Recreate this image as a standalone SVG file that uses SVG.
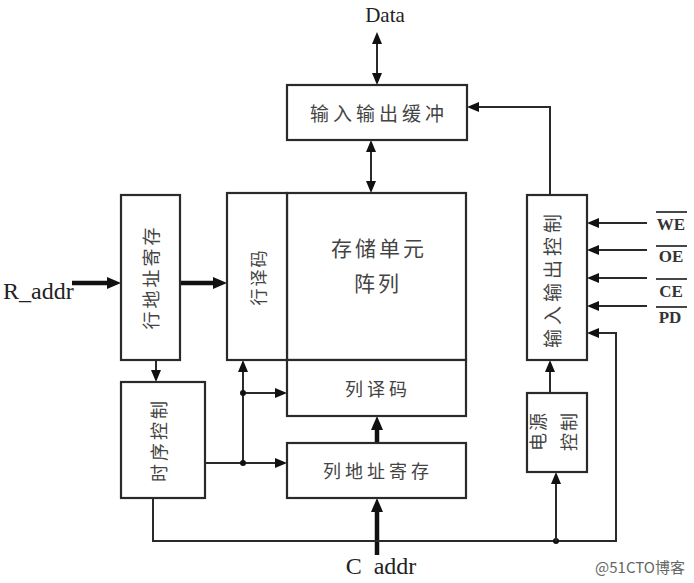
<svg xmlns="http://www.w3.org/2000/svg" width="694" height="583" viewBox="0 0 694 583">
<style>
.box{fill:#fff;stroke:#2a2a2a;stroke-width:2.2}
.ln{fill:none;stroke:#2a2a2a;stroke-width:2}
.thk{fill:none;stroke:#111;stroke-width:4.5}
.cn{font-family:"Noto Sans CJK SC","Noto Sans",sans-serif;fill:#444;text-anchor:middle;dominant-baseline:central}
.lt{font-family:"Liberation Serif",serif;fill:#222}
.sig{font-family:"Liberation Serif",serif;fill:#333;font-size:17px;font-weight:bold}
.ol{stroke:#333;stroke-width:1.8}
</style>
<defs>
<marker id="a" markerUnits="userSpaceOnUse" markerWidth="13" markerHeight="11" refX="0" refY="5" orient="auto-start-reverse"><path d="M0,0 L12,5 L0,10 z" fill="#111"/></marker>
<marker id="b" markerUnits="userSpaceOnUse" markerWidth="15" markerHeight="13" refX="0" refY="6" orient="auto-start-reverse"><path d="M0,0 L14,6 L0,12 z" fill="#111"/></marker>
</defs>

<g id="connectors">
<line class="ln" x1="377" y1="44" x2="377" y2="73" marker-start="url(#a)" marker-end="url(#a)"/>
<line class="ln" x1="371" y1="152" x2="371" y2="181" marker-start="url(#a)" marker-end="url(#a)"/>
<line class="thk" x1="72" y1="283" x2="107" y2="283" marker-end="url(#b)"/>
<line class="thk" x1="180" y1="283" x2="213" y2="283" marker-end="url(#b)"/>
<line class="ln" x1="156" y1="360" x2="156" y2="370" marker-end="url(#a)"/>
<line class="ln" x1="205" y1="463" x2="275" y2="463" marker-end="url(#a)"/>
<line class="ln" x1="243" y1="463" x2="243" y2="372" marker-end="url(#a)"/>
<line class="ln" x1="243" y1="393" x2="275" y2="393" marker-end="url(#a)"/>
<circle cx="243" cy="393" r="3" fill="#111"/>
<circle cx="243" cy="463" r="3" fill="#111"/>
<line class="thk" x1="377" y1="443" x2="377" y2="430" marker-end="url(#b)"/>
<line class="thk" x1="377" y1="555" x2="377" y2="512" marker-end="url(#b)"/>
<path class="ln" d="M153,498 V541 H616 V333 H599" marker-end="url(#a)"/>
<circle cx="556" cy="541" r="3" fill="#111"/>
<line class="ln" x1="556" y1="541" x2="556" y2="484" marker-end="url(#a)"/>
<line class="ln" x1="550" y1="393" x2="550" y2="372" marker-end="url(#a)"/>
<path class="ln" d="M550,195 V107 H479" marker-end="url(#a)"/>
<line class="ln" x1="647" y1="223" x2="599" y2="223" marker-end="url(#a)"/>
<line class="ln" x1="647" y1="250" x2="599" y2="250" marker-end="url(#a)"/>
<line class="ln" x1="647" y1="278" x2="599" y2="278" marker-end="url(#a)"/>
<line class="ln" x1="647" y1="306" x2="599" y2="306" marker-end="url(#a)"/>
</g>

<g id="io_buffer">
<rect class="box" x="287" y="85" width="180" height="55"/>
<text class="cn" x="379" y="112" font-size="19" letter-spacing="4">输入输出缓冲</text>
</g>

<g id="memory_array">
<rect class="box" x="287" y="193" width="179" height="167"/>
<text class="cn" x="379" y="247" font-size="21" letter-spacing="3">存储单元</text>
<text class="cn" x="378" y="282" font-size="21" letter-spacing="3">阵列</text>
</g>

<g id="row_decoder">
<rect class="box" x="227" y="193" width="60" height="167"/>
<text class="cn" transform="translate(257,277) rotate(-90)" font-size="17" letter-spacing="2">行译码</text>
</g>

<g id="col_decoder">
<rect class="box" x="287" y="360" width="179" height="56"/>
<text class="cn" x="378" y="388" font-size="18" letter-spacing="4">列译码</text>
</g>

<g id="row_addr_reg">
<rect class="box" x="121" y="195" width="59" height="165"/>
<text class="cn" transform="translate(150,277) rotate(-90)" font-size="18" letter-spacing="3">行地址寄存</text>
</g>

<g id="timing_ctrl">
<rect class="box" x="121" y="382" width="84" height="116"/>
<text class="cn" transform="translate(158,440) rotate(-90)" font-size="18" letter-spacing="3">时序控制</text>
</g>

<g id="col_addr_reg">
<rect class="box" x="287" y="443" width="179" height="55"/>
<text class="cn" x="378" y="470" font-size="18" letter-spacing="4">列地址寄存</text>
</g>

<g id="io_ctrl">
<rect class="box" x="527" y="195" width="60" height="165"/>
<text class="cn" transform="translate(551,279) rotate(-90)" font-size="19" letter-spacing="4">输入输出控制</text>
</g>

<g id="power_ctrl">
<rect class="box" x="527" y="393" width="60" height="79"/>
<text class="cn" transform="translate(537,431) rotate(-90)" font-size="18" letter-spacing="2">电源</text>
<text class="cn" transform="translate(568,431) rotate(-90)" font-size="18" letter-spacing="2">控制</text>
</g>

<g id="labels">
<text class="lt" x="385" y="22" font-size="21" text-anchor="middle">Data</text>
<text class="lt" x="3" y="299" font-size="24">R_addr</text>
<text class="lt" x="381" y="574" font-size="24" text-anchor="middle">C&#160;&#160;addr</text>
<text class="sig" x="671" y="230" text-anchor="middle">WE</text>
<line class="ol" x1="656" y1="212" x2="687" y2="212"/>
<text class="sig" x="671" y="262" text-anchor="middle">OE</text>
<line class="ol" x1="656" y1="246" x2="687" y2="246"/>
<text class="sig" x="671" y="297" text-anchor="middle">CE</text>
<line class="ol" x1="656" y1="279" x2="687" y2="279"/>
<text class="sig" x="670" y="323" text-anchor="middle">PD</text>
<line class="ol" x1="656" y1="307" x2="687" y2="307"/>
<text x="640" y="573" font-size="15" text-anchor="middle" fill="#666" font-family="'Noto Sans CJK SC','Noto Sans',sans-serif">@51CTO博客</text>
</g>
</svg>
